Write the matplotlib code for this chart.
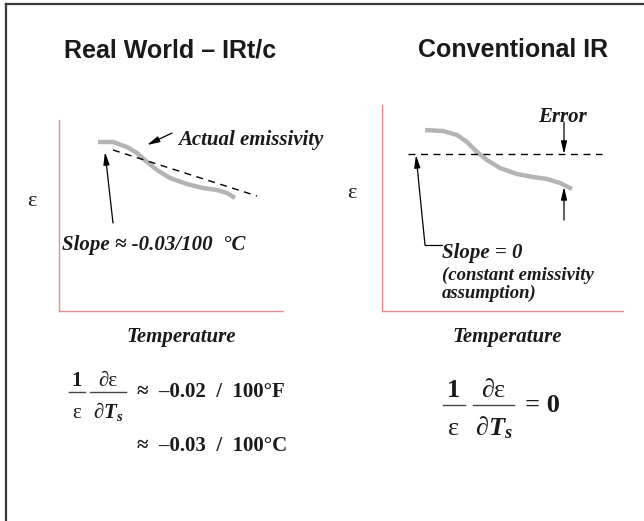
import matplotlib
matplotlib.use("Agg")
import matplotlib.pyplot as plt
from matplotlib.lines import Line2D

# ---------------- data (panel coordinates) ----------------
# Left panel: "Real World" actual emissivity curve vs temperature
left_temp = [39, 54, 68, 78, 88, 98, 111, 128, 144, 158, 168, 176]
left_eps = [169, 169, 164, 158, 149, 141, 133, 127, 123, 121, 118, 113]
left_fit_temp = [54, 198]
left_fit_eps = [161, 115]

# Right panel: "Conventional IR" actual curve and constant-emissivity assumption
right_temp = [43, 61, 75, 85, 95, 105, 118, 135, 151, 165, 178, 190]
right_eps = [181, 180, 176, 169, 159, 151, 143, 137, 134, 132, 128, 122]
right_const_temp = [26, 220]
right_const_eps = [157, 157]

titles = ["Real World \u2013 IRt/c", "Conventional IR"]
xlabel = "Temperature"
ylabel = "\u03b5"

W, H = 644, 521
fig = plt.figure(figsize=(W / 100, H / 100), dpi=100)

plt.rcParams['mathtext.fontset'] = 'custom'
plt.rcParams['mathtext.rm'] = 'Liberation Serif:bold'
plt.rcParams['mathtext.it'] = 'Liberation Serif:italic:bold'
plt.rcParams['mathtext.bf'] = 'Liberation Serif:bold'

RED = '#ec8a90'
GRAY = '#b4b4b4'
SERIF = 'Liberation Serif'
INK = '#1a1a1a'


def panel(x0, y0, x1, y1):
    ax = fig.add_axes([x0 / W, 1 - y1 / H, (x1 - x0) / W, (y1 - y0) / H])
    ax.set_xlim(0, x1 - x0)
    ax.set_ylim(0, y1 - y0)
    for s in ['top', 'right']:
        ax.spines[s].set_visible(False)
    for s in ['left', 'bottom']:
        ax.spines[s].set_color(RED)
        ax.spines[s].set_linewidth(1.0)
    ax.set_xticks([])
    ax.set_yticks([])
    ax.patch.set_alpha(0)
    return ax


axL = panel(59, 120, 283, 311)
axR = panel(382, 105, 623, 311)

axL.plot(left_temp, left_eps, color=GRAY, lw=3.2, solid_capstyle='butt')
axL.plot(left_fit_temp, left_fit_eps, color='black', lw=1.0, ls=(0, (5, 4)))
axR.plot(right_temp, right_eps, color=GRAY, lw=3.2, solid_capstyle='butt')
axR.plot(right_const_temp, right_const_eps, color='black', lw=1.0, ls=(0, (5, 4)))

# ---------------- overlay in pixel coordinates ----------------
ov = fig.add_axes([0, 0, 1, 1])
ov.set_xlim(0, W)
ov.set_ylim(H, 0)
ov.axis('off')
ov.patch.set_alpha(0)

# border
ov.add_line(Line2D([6, 6], [4, H + 5], color='#3a3a3a', lw=1.6))
ov.add_line(Line2D([6, W + 5], [4, 4], color='#3a3a3a', lw=1.6))

# titles
tfont = dict(family=['Liberation Sans', 'DejaVu Sans'],
             fontweight='bold', fontsize=18, va='baseline', ha='left', color=INK)
ov.text(64, 57, titles[0], **tfont)
ov.text(418, 57, titles[1], **tfont)

bi = dict(family=SERIF, fontweight='bold', fontstyle='italic', color=INK)

# y labels
ov.text(32, 202, ylabel, family=SERIF, fontsize=16, ha='center', va='center', color=INK)
ov.text(352, 193, ylabel, family=SERIF, fontsize=16, ha='center', va='center', color=INK)

# x labels
ov.text(181, 337, xlabel, fontsize=15, ha='center', va='center', **bi)
ov.text(507, 337, xlabel, fontsize=15, ha='center', va='center', **bi)

arrow_kw = dict(arrowstyle='-|>,head_length=0.75,head_width=0.18', color='black', lw=0.9,
                shrinkA=0, shrinkB=0)

# left annotations
ov.text(178, 140, "Actual emissivity", fontsize=15, ha='left', va='center', **bi)
ov.annotate('', xy=(147, 145), xytext=(172, 133), arrowprops=arrow_kw)
ov.text(62, 245, "Slope \u2248 -0.03/100  \u00b0C", fontsize=15, ha='left', va='center', **bi)
ov.annotate('', xy=(105, 152), xytext=(113, 223), arrowprops=arrow_kw)

# right annotations
ov.text(563, 117, "Error", fontsize=15, ha='center', va='center', **bi)
ov.annotate('', xy=(564, 154), xytext=(564, 122), arrowprops=arrow_kw)
ov.annotate('', xy=(564, 187), xytext=(564, 220), arrowprops=arrow_kw)
ov.add_line(Line2D([442, 425], [245, 245], color='black', lw=0.9))
ov.annotate('', xy=(416, 155), xytext=(425, 245), arrowprops=arrow_kw)
ov.text(442, 253, "Slope = 0", fontsize=15, ha='left', va='center', **bi)
ov.text(442, 275, "(constant emissivity", fontsize=13.5, ha='left', va='center', **bi)
ov.text(442, 293, "assumption)", fontsize=13.5, ha='left', va='center', **bi)


# formulas
def frac(xc, ybar, half, num, den, size, num_base, den_base, num_w='bold', den_w='bold'):
    ov.add_line(Line2D([xc - half, xc + half], [ybar, ybar], color='#444444', lw=1.0))
    ov.text(xc, num_base, num, family=SERIF, fontweight=num_w, fontsize=size,
            ha='center', va='baseline', color=INK)
    ov.text(xc, den_base, den, family=SERIF, fontweight=den_w, fontsize=size,
            ha='center', va='baseline', color=INK)


dT = r'$\partial\mathit{T}_{\mathit{s}}$'
frac(77, 392, 8, '1', '\u03b5', 15, 386, 418, den_w='normal')
frac(108, 392, 18, '\u2202\u03b5', dT, 15, 386, 418, num_w='normal')
ov.text(137, 392, "\u2248  \u20130.02  /  100\u00b0F", family=SERIF, fontweight='bold',
        fontsize=15, ha='left', va='center', color=INK)
ov.text(137, 446, "\u2248  \u20130.03  /  100\u00b0C", family=SERIF, fontweight='bold',
        fontsize=15, ha='left', va='center', color=INK)

frac(454, 405, 11, '1', '\u03b5', 19, 397, 435, den_w='normal')
frac(493.5, 405, 20.5, '\u2202\u03b5', dT, 19, 397, 435, num_w='normal')
ov.text(525, 405, "= 0", family=SERIF, fontweight='bold', fontsize=19,
        ha='left', va='center', color=INK)

fig.savefig('out.png', dpi=100)
